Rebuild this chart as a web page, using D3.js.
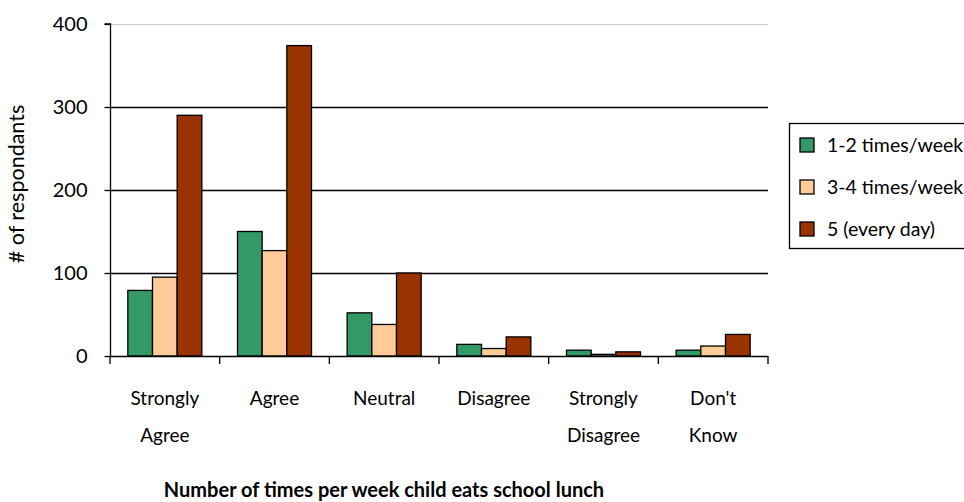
<!DOCTYPE html>
<html>
<head>
<meta charset="utf-8">
<script src="https://cdn.jsdelivr.net/npm/d3@7"></script>
<style>
  html, body { margin: 0; padding: 0; background: #fff; }
  svg { display: block; }
  text { font-family: Lato, "Open Sans", sans-serif; fill: #000; }
</style>
</head>
<body>
<svg id="chart" width="964" height="502"></svg>
<script>
const categories = [["Strongly", "Agree"], ["Agree"], ["Neutral"], ["Disagree"], ["Strongly", "Disagree"], ["Don't", "Know"]];
const seriesNames = ["1-2 times/week", "3-4 times/week", "5 (every day)"];
const seriesColors = ["#339966", "#FFCC99", "#993300"];
const values12 = [79, 150, 52, 14, 7, 7];
const values34 = [95, 127, 38, 9, 2, 12];
const values5 = [290, 374, 100, 23, 5, 26];
const yTicks = [0, 100, 200, 300, 400];
const yTitle = "# of respondants";
const xTitle = "Number of times per week child eats school lunch";

const series = [values12, values34, values5];
const svg = d3.select("#chart");
const pLeft = 110, pRight = 768, pTop = 24, pBottom = 356;

const catKeys = categories.map((c, i) => i);
const x = d3.scaleBand().domain(catKeys).range([pLeft, pRight]).paddingInner(0.325).paddingOuter(0.1625);
const x1 = d3.scaleBand().domain([0, 1, 2]).range([0, x.bandwidth()]);
const y = d3.scaleLinear().domain([0, 400]).range([pBottom, pTop]);

// gridlines
svg.append("g").selectAll("line").data(yTicks.filter(t => t > 0)).join("line")
  .attr("x1", pLeft).attr("x2", pRight)
  .attr("y1", d => y(d) + 0.5).attr("y2", d => y(d) + 0.5)
  .attr("stroke", d => d === 400 ? "#c8c8c8" : "#000")
  .attr("stroke-width", d => d === 400 ? 1 : 1.3);

// bars
const groups = svg.append("g").selectAll("g").data(catKeys).join("g")
  .attr("transform", d => `translate(${x(d)},0)`);
groups.selectAll("rect").data(i => series.map((s, k) => ({k, v: s[i]}))).join("rect")
  .attr("x", d => x1(d.k))
  .attr("width", x1.bandwidth())
  .attr("y", d => y(d.v))
  .attr("height", d => y(0) - y(d.v))
  .attr("fill", d => seriesColors[d.k])
  .attr("stroke", "#000")
  .attr("stroke-width", 1.3);

// y axis
const yAxis = d3.axisLeft(y).tickValues(yTicks).tickSize(6).tickPadding(17);
const gy = svg.append("g").attr("transform", `translate(${pLeft + 0.5},0)`).call(yAxis);
gy.select(".domain").attr("stroke", "#000").attr("stroke-width", 1.3).attr("d", `M-6,${y(400)}H0V${y(0)}`);
gy.selectAll(".tick line").attr("stroke", "#000").attr("stroke-width", 1.3);
gy.selectAll(".tick text").style("font-size", "20px").style("font-family", "Lato, sans-serif").attr("fill", "#000");

// x axis baseline and ticks
const gx = svg.append("g");
gx.append("line").attr("x1", pLeft).attr("x2", pRight).attr("y1", pBottom + 0.5).attr("y2", pBottom + 0.5)
  .attr("stroke", "#000").attr("stroke-width", 1.3);
gx.selectAll("line.tk").data(d3.range(categories.length + 1)).join("line").attr("class", "tk")
  .attr("x1", i => pLeft + i * (pRight - pLeft) / categories.length)
  .attr("x2", i => pLeft + i * (pRight - pLeft) / categories.length)
  .attr("y1", pBottom).attr("y2", pBottom + 8)
  .attr("stroke", "#000").attr("stroke-width", 1.3);

// category labels
const lbl = svg.append("g").selectAll("text").data(catKeys).join("text")
  .attr("x", d => x(d) + x.bandwidth() / 2)
  .attr("y", 405)
  .attr("text-anchor", "middle")
  .style("font-size", "19px");
lbl.selectAll("tspan").data(d => categories[d]).join("tspan")
  .attr("x", function() { return d3.select(this.parentNode).attr("x"); })
  .attr("dy", (d, j) => j === 0 ? 0 : 37)
  .text(d => d);

// y title
svg.append("text").attr("transform", "translate(24,184) rotate(-90)")
  .attr("text-anchor", "middle").style("font-size", "21.5px").text(yTitle);

// x title
svg.append("text").attr("x", 384).attr("y", 497).attr("text-anchor", "middle")
  .style("font-size", "20px").style("font-weight", "bold").text(xTitle);

// legend
const lg = svg.append("g");
lg.append("rect").attr("x", 789.5).attr("y", 123.5).attr("width", 190).attr("height", 125)
  .attr("fill", "#fff").attr("stroke", "#000").attr("stroke-width", 1.3);
const items = lg.selectAll("g").data(seriesNames).join("g")
  .attr("transform", (d, i) => `translate(800,${138 + i * 42})`);
items.append("rect").attr("width", 14).attr("height", 14)
  .attr("fill", (d, i) => seriesColors[i]).attr("stroke", "#000").attr("stroke-width", 1.3);
items.append("text").attr("x", 27).attr("y", 14).style("font-size", "19.5px").text(d => d);
</script>
</body>
</html>
